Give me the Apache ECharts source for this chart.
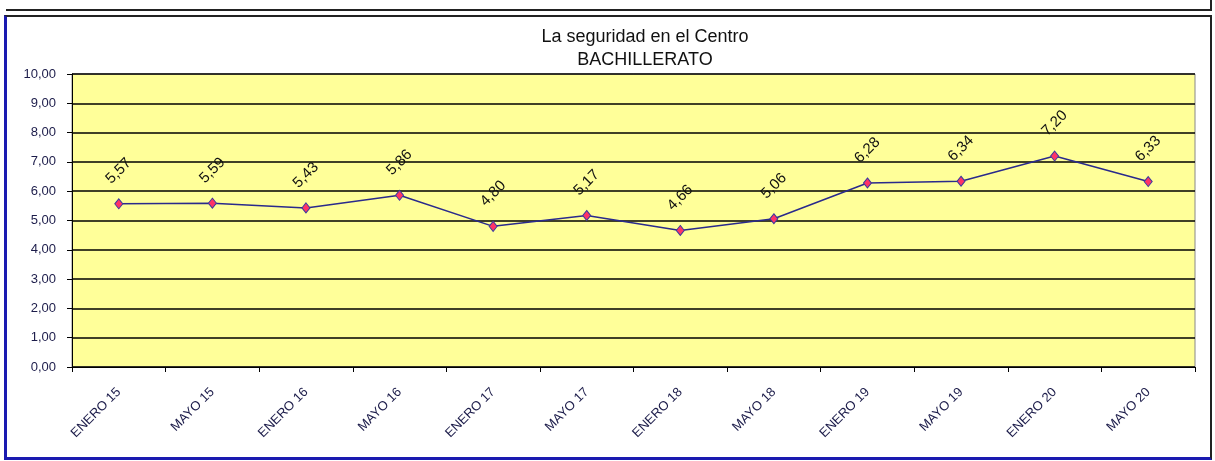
<!DOCTYPE html>
<html>
<head>
    <meta charset="UTF-8">
    <script type="text/javascript" src="https://cdn.jsdelivr.net/npm/echarts@6/dist/echarts.min.js"></script>
</head>
<style>
    body { margin: 0; padding: 0; background: #fff; }
    .frame { position: absolute; pointer-events: none; }
</style>
<body>
<div id="main" style="position:absolute;left:0;top:0;width:1215px;height:461px;"></div>
<!-- marco de la hoja -->
<div class="frame" style="left:6px;top:0;width:1204px;height:9px;border-bottom:2px solid #222;border-right:2px solid #222;"></div>
<div class="frame" style="left:4px;top:15px;width:1203px;height:440px;border:2px solid #222;border-left:3px solid #1a1ab0;border-bottom:3px solid #1a1ab0;"></div>
<script>
    var periodos = ['ENERO 15', 'MAYO 15', 'ENERO 16', 'MAYO 16', 'ENERO 17', 'MAYO 17',
        'ENERO 18', 'MAYO 18', 'ENERO 19', 'MAYO 19', 'ENERO 20', 'MAYO 20']
    var valores = [5.57, 5.59, 5.43, 5.86, 4.80, 5.17, 4.66, 5.06, 6.28, 6.34, 7.20, 6.33]

    function coma(v) {
        return Number(v).toFixed(2).replace('.', ',')
    }

    var chart = echarts.init(document.getElementById('main'))
    var option = {
        animation: false,
        title: {
            text: 'La seguridad en el Centro\nBACHILLERATO',
            left: 640,
            textAlign: 'center',
            top: 21,
            textStyle: {
                fontFamily: 'Liberation Sans, Arial',
                fontSize: 18,
                fontWeight: 'normal',
                color: '#111',
                lineHeight: 23
            }
        },
        grid: {
            left: 72,
            top: 74,
            width: 1123,
            height: 293,
            show: true,
            backgroundColor: '#ffff99',
            borderColor: '#888',
            borderWidth: 1
        },
        xAxis: {
            type: 'category',
            data: periodos,
            boundaryGap: true,
            axisLine: {lineStyle: {color: '#000', width: 1}},
            axisTick: {show: true, length: 5, lineStyle: {color: '#000'}},
            axisLabel: {
                rotate: 45,
                margin: 23,
                fontFamily: 'Liberation Sans, Arial',
                fontSize: 13,
                color: '#1c1c4a'
            }
        },
        yAxis: {
            type: 'value',
            min: 0,
            max: 10,
            interval: 1,
            axisLine: {show: true, lineStyle: {color: '#000', width: 1}},
            axisTick: {show: true, length: 5, lineStyle: {color: '#000'}},
            splitLine: {show: true, lineStyle: {color: '#000', width: 1.5}},
            axisLabel: {
                margin: 16,
                fontFamily: 'Liberation Sans, Arial',
                fontSize: 13,
                color: '#1c1c4a',
                formatter: coma
            }
        },
        series: [{
            type: 'line',
            data: valores,
            symbol: 'diamond',
            symbolSize: [8, 10],
            lineStyle: {color: '#2a2a8c', width: 1.5},
            itemStyle: {color: '#ff3366', borderColor: '#3a3aa0', borderWidth: 1},
            label: {
                show: true,
                position: 'top',
                distance: 12,
                offset: [10.7, -3.3],
                rotate: 45,
                fontFamily: 'Liberation Sans, Arial',
                fontSize: 15,
                color: '#111',
                formatter: function (p) {
                    return coma(p.value)
                }
            }
        }]
    }
    chart.setOption(option)
</script>
</body>
</html>
